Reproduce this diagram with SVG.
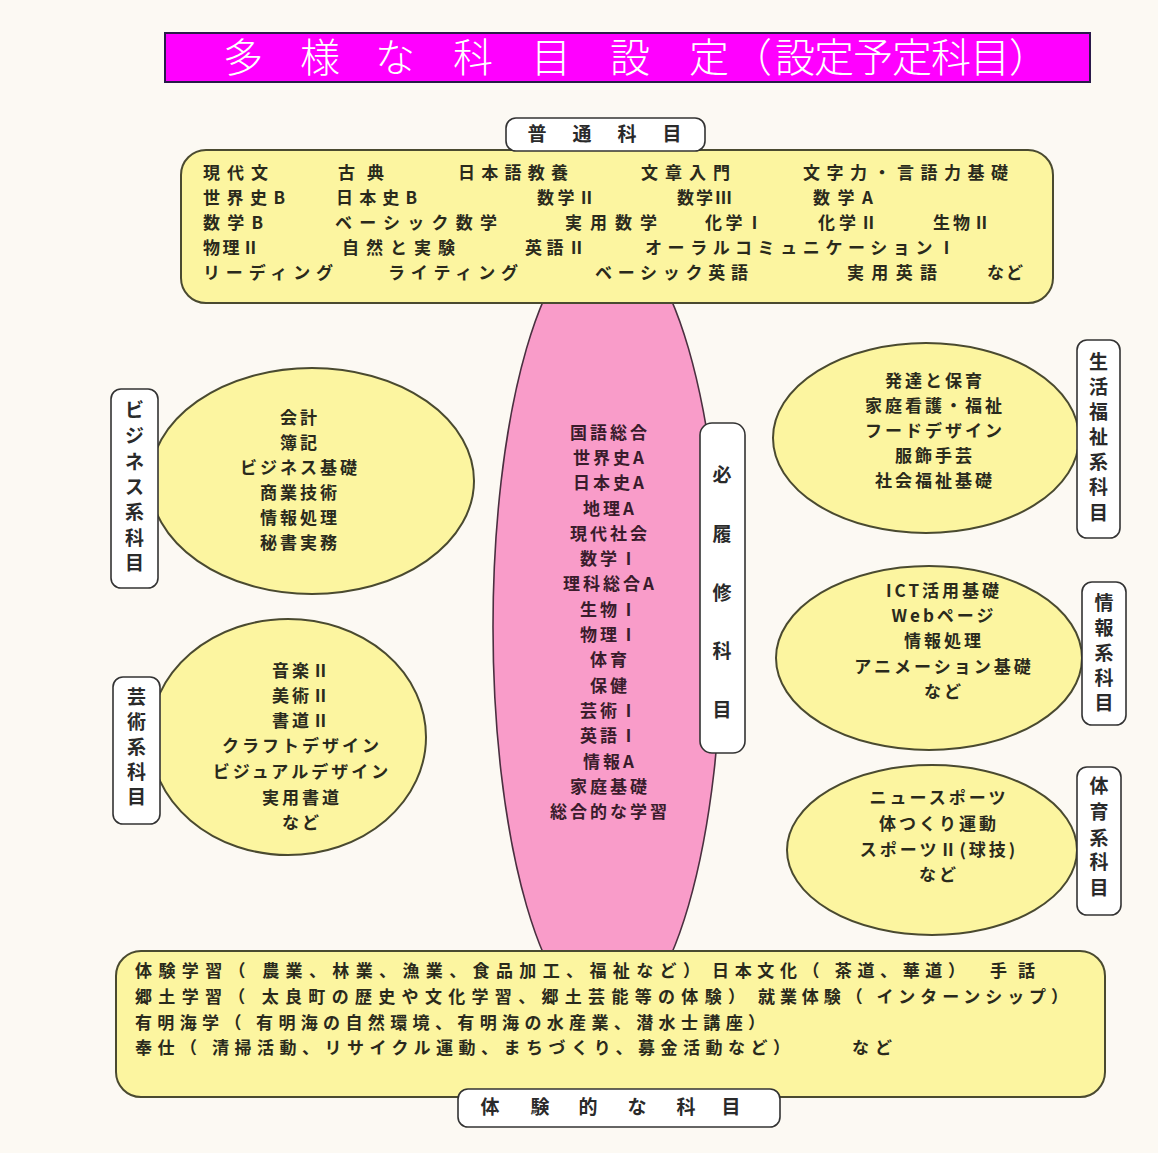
<svg xmlns="http://www.w3.org/2000/svg" width="1158" height="1153" viewBox="0 0 1158 1153">
<style>
.bg{fill:#FCF9F3}
.box{fill:#FCF5A0;stroke:#4a4a30;stroke-width:2}
.pink{fill:#F99CC9;stroke:#4a3040;stroke-width:1.6}
.lbl{fill:#ffffff;stroke:#333333;stroke-width:1.6}
.t{font-family:"Noto Sans CJK JP","Noto Sans",sans-serif;font-size:17px;font-weight:700;fill:#2a2a1c}
.tc{font-family:"Noto Sans CJK JP","Noto Sans",sans-serif;font-size:17px;font-weight:700;fill:#3a1c2c;text-anchor:middle;letter-spacing:3px}
.tm{font-family:"Noto Sans CJK JP","Noto Sans",sans-serif;font-size:17px;font-weight:700;fill:#2a2a1c;text-anchor:middle;letter-spacing:3px}
.v{font-family:"Noto Sans CJK JP","Noto Sans",sans-serif;font-size:19px;font-weight:700;fill:#2a2a2a;text-anchor:middle}
.title{font-family:"Noto Sans CJK JP","Noto Sans",sans-serif;font-size:40px;font-weight:300;fill:#ffffff;text-anchor:middle}
</style>
<rect class="bg" x="0" y="0" width="1158" height="1153"/>

<g id="title">
<rect x="165" y="33" width="925" height="49" fill="#FF00FF" stroke="#2a1a4a" stroke-width="2"/>
<text class="title" x="243 320 395 473 551 630 709 752 795 834 873 912 951 990 1029" y="72">多様な科目設定（設定予定科目）</text>
</g>

<g id="required">
<ellipse class="pink" cx="607.5" cy="627" rx="114.5" ry="394"/>
<text class="tc" x="610" y="439">国語総合</text>
<text class="tc" x="610" y="464">世界史A</text>
<text class="tc" x="610" y="489">日本史A</text>
<text class="tc" x="610" y="515">地理A</text>
<text class="tc" x="610" y="540">現代社会</text>
<text class="tc" x="610" y="565">数学Ⅰ</text>
<text class="tc" x="610" y="590">理科総合A</text>
<text class="tc" x="610" y="616">生物Ⅰ</text>
<text class="tc" x="610" y="641">物理Ⅰ</text>
<text class="tc" x="610" y="666">体育</text>
<text class="tc" x="610" y="692">保健</text>
<text class="tc" x="610" y="717">芸術Ⅰ</text>
<text class="tc" x="610" y="742">英語Ⅰ</text>
<text class="tc" x="610" y="768">情報A</text>
<text class="tc" x="610" y="793">家庭基礎</text>
<text class="tc" x="610" y="818">総合的な学習</text>
</g>

<g id="general">
<rect class="box" x="181" y="150" width="872" height="153" rx="25"/>
<text class="t" y="179"><tspan x="203" textLength="65">現代文</tspan><tspan x="338" textLength="46">古典</tspan><tspan x="458" textLength="110">日本語教養</tspan><tspan x="641" textLength="89">文章入門</tspan><tspan x="803" textLength="205">文字力・言語力基礎</tspan></text>
<text class="t" y="204"><tspan x="203" textLength="82">世界史B</tspan><tspan x="336" textLength="81">日本史B</tspan><tspan x="537" textLength="58">数学Ⅱ</tspan><tspan x="677" textLength="55">数学Ⅲ</tspan><tspan x="813" textLength="60">数学A</tspan></text>
<text class="t" y="229"><tspan x="203" textLength="60">数学B</tspan><tspan x="335" textLength="162">ベーシック数学</tspan><tspan x="565" textLength="92">実用数学</tspan><tspan x="705" textLength="58">化学Ⅰ</tspan><tspan x="818" textLength="59">化学Ⅱ</tspan><tspan x="933" textLength="57">生物Ⅱ</tspan></text>
<text class="t" y="254"><tspan x="203" textLength="56">物理Ⅱ</tspan><tspan x="342" textLength="113">自然と実験</tspan><tspan x="525" textLength="60">英語Ⅱ</tspan><tspan x="645" textLength="310">オーラルコミュニケーションⅠ</tspan></text>
<text class="t" y="279"><tspan x="203" textLength="130">リーディング</tspan><tspan x="388" textLength="130">ライティング</tspan><tspan x="595" textLength="153">ベーシック英語</tspan><tspan x="847" textLength="90">実用英語</tspan><tspan x="987" textLength="36">など</tspan></text>
</g>
<g id="general-label">
<rect class="lbl" x="506" y="118" width="199" height="33" rx="10"/>
<text class="v" x="537 582 627 672" y="141">普通科目</text>
</g>

<g id="experience">
<rect class="box" x="116" y="951" width="989" height="146" rx="25"/>
<text class="t" y="977"><tspan x="135" textLength="565">体験学習（ 農業、林業、漁業、食品加工、福祉など）</tspan><tspan x="712" textLength="253">日本文化（ 茶道、華道）</tspan><tspan x="990" textLength="45">手話</tspan></text>
<text class="t" y="1003"><tspan x="135" textLength="610">郷土学習（ 太良町の歴史や文化学習、郷土芸能等の体験）</tspan><tspan x="758" textLength="310">就業体験（ インターンシップ）</tspan></text>
<text class="t" y="1029"><tspan x="135" textLength="630">有明海学（ 有明海の自然環境、有明海の水産業、潜水士講座）</tspan></text>
<text class="t" y="1054"><tspan x="135" textLength="655">奉仕（ 清掃活動、リサイクル運動、まちづくり、募金活動など）</tspan><tspan x="852" textLength="40">など</tspan></text>
</g>
<g id="experience-label">
<rect class="lbl" x="458" y="1089" width="322" height="38" rx="10"/>
<text class="v" x="490 540 588 637 686 731" y="1114">体験的な科目</text>
</g>

<g id="required-label">
<rect class="lbl" x="700" y="423" width="45" height="330" rx="12"/>
<text class="v" x="722 722 722 722 722" y="482 541 600 658 717">必履修科目</text>
</g>

<g id="business">
<ellipse class="box" cx="312" cy="481" rx="162" ry="113"/>
<text class="tm" x="300" y="424">会計</text>
<text class="tm" x="300" y="449">簿記</text>
<text class="tm" x="300" y="474">ビジネス基礎</text>
<text class="tm" x="300" y="499">商業技術</text>
<text class="tm" x="300" y="524">情報処理</text>
<text class="tm" x="300" y="549">秘書実務</text>
<rect class="lbl" x="111" y="389" width="47" height="199" rx="10"/>
<text class="v" x="134.5 134.5 134.5 134.5 134.5 134.5 134.5" y="417 443 469 494 519 545 570">ビジネス系科目</text>
</g>

<g id="arts">
<ellipse class="box" cx="288" cy="737" rx="138" ry="118"/>
<text class="tm" x="302" y="677">音楽Ⅱ</text>
<text class="tm" x="302" y="702">美術Ⅱ</text>
<text class="tm" x="302" y="727">書道Ⅱ</text>
<text class="tm" x="302" y="752">クラフトデザイン</text>
<text class="tm" x="302" y="778">ビジュアルデザイン</text>
<text class="tm" x="302" y="804">実用書道</text>
<text class="tm" x="302" y="829">など</text>
<rect class="lbl" x="113" y="677" width="47" height="147" rx="10"/>
<text class="v" x="136.5 136.5 136.5 136.5 136.5" y="704 729 754 779 804">芸術系科目</text>
</g>

<g id="welfare">
<ellipse class="box" cx="926" cy="438" rx="153" ry="95"/>
<text class="tm" x="935" y="387">発達と保育</text>
<text class="tm" x="935" y="412">家庭看護・福祉</text>
<text class="tm" x="935" y="437">フードデザイン</text>
<text class="tm" x="935" y="462">服飾手芸</text>
<text class="tm" x="935" y="487">社会福祉基礎</text>
<rect class="lbl" x="1077" y="340" width="43" height="198" rx="10"/>
<text class="v" x="1098.5 1098.5 1098.5 1098.5 1098.5 1098.5 1098.5" y="369 394 419 444 469 494 520">生活福祉系科目</text>
</g>

<g id="info">
<ellipse class="box" cx="929" cy="658" rx="153" ry="92"/>
<text class="tm" x="944" y="597">ICT活用基礎</text>
<text class="tm" x="944" y="622">Webページ</text>
<text class="tm" x="944" y="647">情報処理</text>
<text class="tm" x="944" y="673">アニメーション基礎</text>
<text class="tm" x="944" y="698">など</text>
<rect class="lbl" x="1082" y="582" width="44" height="143" rx="10"/>
<text class="v" x="1104 1104 1104 1104 1104" y="610 635 660 685 710">情報系科目</text>
</g>

<g id="sports">
<ellipse class="box" cx="932" cy="850" rx="145" ry="85"/>
<text class="tm" x="939" y="804">ニュースポーツ</text>
<text class="tm" x="939" y="830">体つくり運動</text>
<text class="tm" x="939" y="856">スポーツⅡ(球技)</text>
<text class="tm" x="939" y="881">など</text>
<rect class="lbl" x="1077" y="767" width="44" height="148" rx="10"/>
<text class="v" x="1099 1099 1099 1099 1099" y="793 819 845 869 895">体育系科目</text>
</g>

<g id="connectors"/>
</svg>
